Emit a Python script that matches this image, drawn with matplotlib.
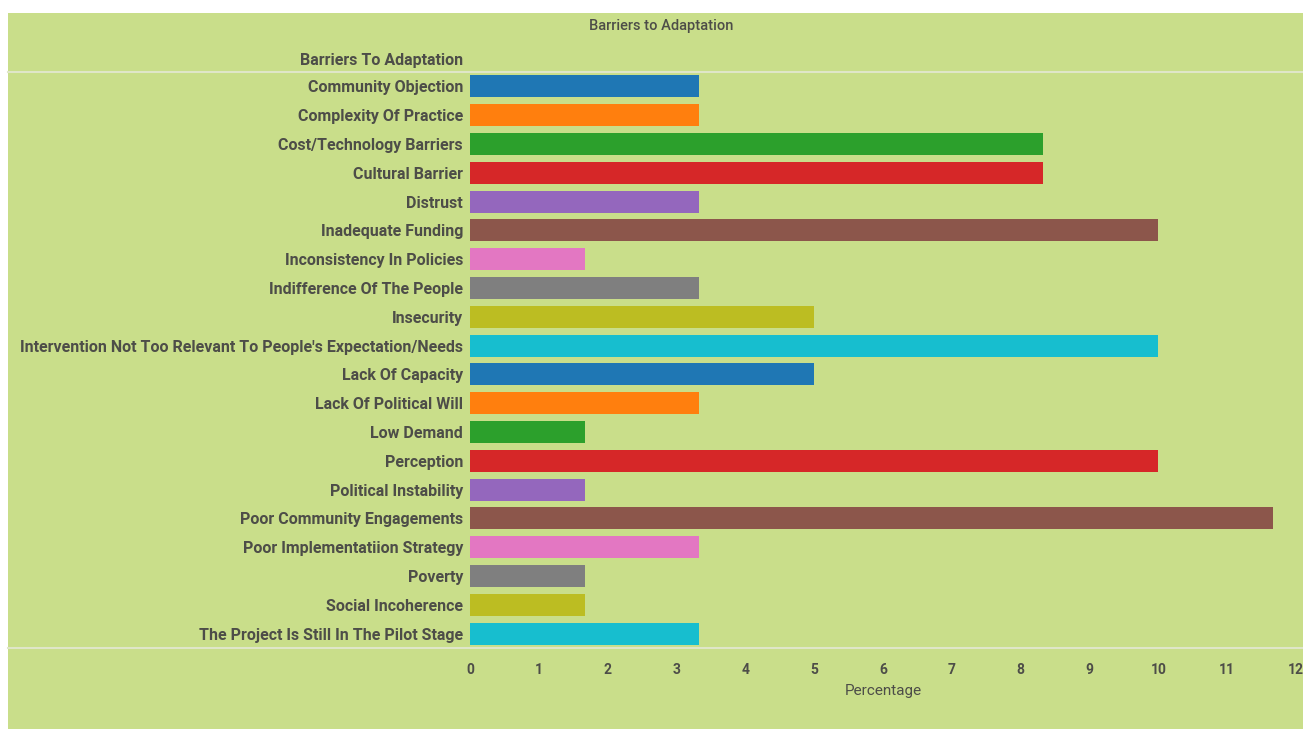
import matplotlib
matplotlib.use("Agg")
import matplotlib.pyplot as plt
from matplotlib.lines import Line2D
from matplotlib import font_manager

categories = [
    "Community Objection",
    "Complexity Of Practice",
    "Cost/Technology Barriers",
    "Cultural Barrier",
    "Distrust",
    "Inadequate Funding",
    "Inconsistency In Policies",
    "Indifference Of The People",
    "Insecurity",
    "Intervention Not Too Relevant To People's Expectation/Needs",
    "Lack Of Capacity",
    "Lack Of Political Will",
    "Low Demand",
    "Perception",
    "Political Instability",
    "Poor Community Engagements",
    "Poor Implementatiion Strategy",
    "Poverty",
    "Social Incoherence",
    "The Project Is Still In The Pilot Stage",
]
values = [3.33, 3.33, 8.33, 8.33, 3.33, 10.0, 1.67, 3.33, 5.0, 10.0,
          5.0, 3.33, 1.67, 10.0, 1.67, 11.67, 3.33, 1.67, 1.67, 3.33]
xticks = list(range(0, 13))

palette = ["#1f77b4", "#ff7f0e", "#2ca02c", "#d62728", "#9467bd",
           "#8c564b", "#e377c2", "#7f7f7f", "#bcbd22", "#17becf"]
colors = [palette[i % 10] for i in range(len(categories))]

names = {f.name for f in font_manager.fontManager.ttflist}
fam = "Roboto" if "Roboto" in names else "DejaVu Sans"
plt.rcParams["font.family"] = [fam, "DejaVu Sans"]

W, H = 1303, 729
bg = "#c9de8a"
txt = "#4d4d48"

fig = plt.figure(figsize=(W / 100, H / 100), dpi=100)
fig.patch.set_facecolor("white")
bgax = fig.add_axes([8 / W, 0, 1 - 8 / W, 1 - 13 / H], zorder=-10)
bgax.set_axis_off()
bgax.add_patch(plt.Rectangle((0, 0), 1, 1, facecolor=bg, edgecolor="none",
                             transform=bgax.transAxes))

# pick label size so the longest label spans ~455 px
renderer = fig.canvas.get_renderer()
probe = fig.text(0, 0, max(categories, key=len), fontsize=10, fontweight="bold")
wpx = probe.get_window_extent(renderer).width
probe.remove()
lab_fs = min(11.5, 10 * 455 / wpx)

x0, x1 = 470, 1296
y0, y1 = 72, 648
ax = fig.add_axes([x0 / W, 1 - y1 / H, (x1 - x0) / W, (y1 - y0) / H], zorder=5)
ax.set_facecolor("none")

n = len(categories)
ypos = list(range(n))
ax.barh(ypos, values, height=0.76, color=colors, edgecolor="none")
ax.set_ylim(n - 0.5, -0.5)
ax.set_xlim(0, 12)
ax.set_yticks(ypos)
ax.set_yticklabels(categories, fontsize=lab_fs, fontweight="bold", color=txt)
ax.set_xticks(xticks)
ax.set_xticklabels([str(t) for t in xticks], fontsize=10, fontweight="bold", color=txt)
ax.tick_params(axis="both", length=0)
ax.tick_params(axis="y", pad=5)
ax.tick_params(axis="x", pad=11)
for s in ax.spines.values():
    s.set_visible(False)
ax.set_xlabel("Percentage", fontsize=11, color=txt, labelpad=5)

# horizontal separator lines
for yy in (y0, y1):
    fig.add_artist(Line2D([8 / W, 1], [1 - yy / H, 1 - yy / H],
                          transform=fig.transFigure, color="#dfe6c8", lw=1.5, zorder=1))

fig.text(661 / W, 1 - 26 / H, "Barriers to Adaptation", ha="center", va="center",
         fontsize=10.5, fontweight="medium", color=txt)
fig.text(463 / W, 1 - 61 / H, "Barriers To Adaptation", ha="right", va="center",
         fontsize=lab_fs, fontweight="bold", color=txt)

fig.savefig("out.png", dpi=100, facecolor=fig.get_facecolor())
